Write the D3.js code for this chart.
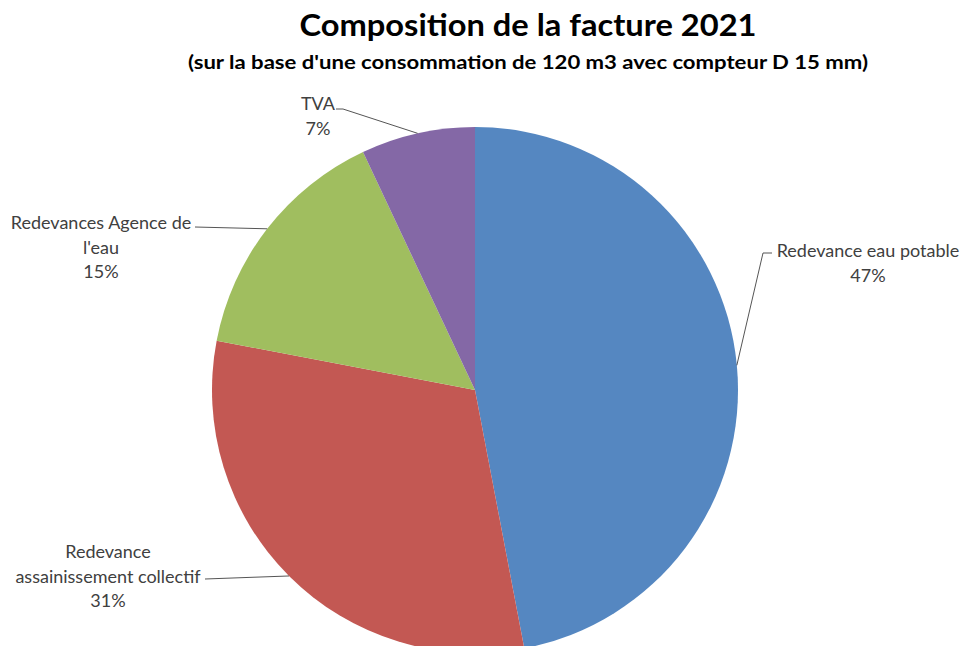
<!DOCTYPE html>
<html>
<head>
<meta charset="utf-8">
<script src="https://cdn.jsdelivr.net/npm/d3@7"></script>
<style>
  body { margin: 0; background: #fff; }
  svg text { font-family: Lato, "Open Sans", sans-serif; }
</style>
</head>
<body>
<div id="chart"></div>
<script>
// Data
const categories = ["Redevance eau potable", "Redevance assainissement collectif", "Redevances Agence de l'eau", "TVA"];
const values = [47, 31, 15, 7];
const colors = ["#5587c1", "#c35853", "#a0be5f", "#8468a6"];

// Label layout: text lines, anchor of the block, and where the leader starts
const labelLayout = {
  "Redevance eau potable": { lines: ["Redevance eau potable", "47%"], x: 868, y: 257, start: [772, 253], bend: [763, 253] },
  "Redevance assainissement collectif": { lines: ["Redevance", "assainissement collectif", "31%"], x: 108, y: 558, start: [205, 579], bend: null },
  "Redevances Agence de l'eau": { lines: ["Redevances Agence de", "l'eau", "15%"], x: 101, y: 229, start: [195, 227], bend: null },
  "TVA": { lines: ["TVA", "7%"], x: 318, y: 110, start: [336, 109], bend: [343, 109] }
};

const width = 964, height = 646;
const cx = 475, cy = 390, radius = 263;

const svg = d3.select("#chart").append("svg")
  .attr("width", width)
  .attr("height", height);

// Titles
svg.append("text")
  .attr("x", 528).attr("y", 36)
  .attr("text-anchor", "middle")
  .attr("font-size", 30).attr("font-weight", "bold")
  .attr("fill", "#000")
  .attr("textLength", 457).attr("lengthAdjust", "spacingAndGlyphs")
  .text("Composition de la facture 2021");

svg.append("text")
  .attr("x", 528).attr("y", 69)
  .attr("text-anchor", "middle")
  .attr("font-size", 18).attr("font-weight", "bold")
  .attr("fill", "#000")
  .attr("textLength", 680).attr("lengthAdjust", "spacingAndGlyphs")
  .text("(sur la base d'une consommation  de 120 m3 avec compteur D 15 mm)");

const data = categories.map((c, i) => ({ name: c, value: values[i], color: colors[i] }));

const pie = d3.pie().value(d => d.value).sort(null);
const arc = d3.arc().innerRadius(0).outerRadius(radius);
const arcs = pie(data);

const g = svg.append("g").attr("transform", `translate(${cx},${cy})`);

g.selectAll("path")
  .data(arcs)
  .enter().append("path")
  .attr("d", arc)
  .attr("fill", d => d.data.color);

// Leader lines end on the outer edge at each slice's middle angle
arcs.forEach(a => {
  const lay = labelLayout[a.data.name];
  const mid = (a.startAngle + a.endAngle) / 2;
  const ex = cx + radius * Math.sin(mid);
  const ey = cy - radius * Math.cos(mid);
  const pts = [lay.start];
  if (lay.bend) pts.push(lay.bend);
  pts.push([ex, ey]);
  svg.append("path")
    .attr("d", d3.line()(pts))
    .attr("fill", "none")
    .attr("stroke", "#555")
    .attr("stroke-width", 1);

  const t = svg.append("text")
    .attr("text-anchor", "middle")
    .attr("font-size", 18)
    .attr("fill", "#404040");
  lay.lines.forEach((line, i) => {
    t.append("tspan")
      .attr("x", lay.x)
      .attr("y", lay.y + i * 24.5)
      .text(line);
  });
});
</script>
</body>
</html>
